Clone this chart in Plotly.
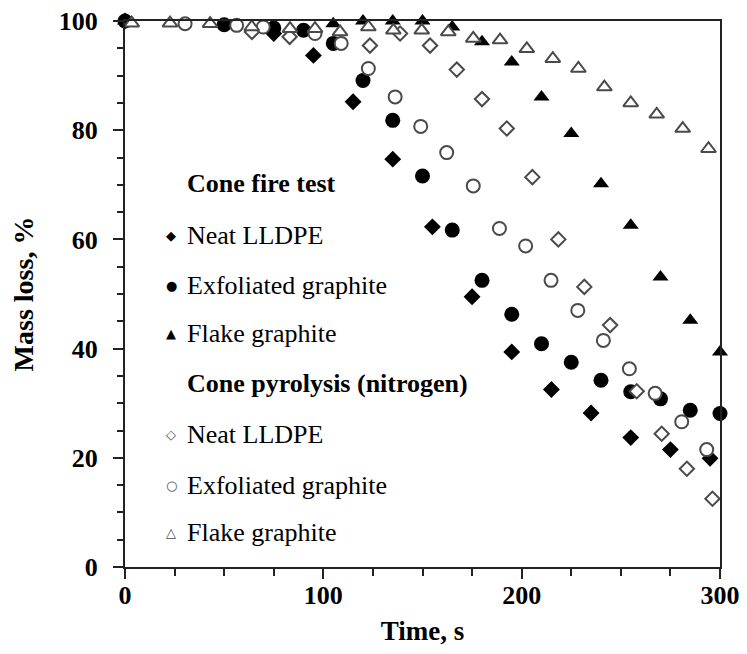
import plotly.graph_objects as go

# ---- data ----
fire_neat_t = [0, 75, 95, 115, 135, 155, 175, 195, 215, 235, 255, 275, 295]
fire_neat_y = [100, 97.7, 93.7, 85.2, 74.7, 62.3, 49.5, 39.4, 32.5, 28.2, 23.7, 21.5, 19.9]

fire_exf_t = [0, 50, 75, 90, 105, 120, 135, 150, 165, 180, 195, 210, 225, 240, 255, 270, 285, 300]
fire_exf_y = [100, 99.3, 98.7, 98.3, 95.9, 89.1, 81.8, 71.6, 61.7, 52.5, 46.3, 40.9, 37.5, 34.2, 32.1, 30.8, 28.7, 28.1]

fire_flake_t = [0, 105, 120, 135, 150, 165, 180, 195, 210, 225, 240, 255, 270, 285, 300]
fire_flake_y = [100, 99.5, 100, 100, 100, 98.9, 96.2, 92.5, 86.1, 79.4, 70.2, 62.6, 53.1, 45.2, 39.4]

pyr_neat_t = [64, 83, 123.5, 138.7, 153.8, 167.3, 180, 192.5, 205.4, 218.5, 231.6, 244.6, 258, 270.6, 283.3, 296.2]
pyr_neat_y = [98, 97.1, 95.5, 97.7, 95.5, 91.1, 85.7, 80.3, 71.4, 60, 51.3, 44.3, 32.2, 24.4, 18, 12.5]

pyr_exf_t = [30.3, 56.3, 69.7, 95.8, 109, 122.7, 136.2, 149.1, 162.2, 175.6, 188.8, 202, 214.8, 228.3, 241.2, 254.3, 267.3, 280.7, 293.3]
pyr_exf_y = [99.5, 99.2, 98.9, 97.7, 95.9, 91.3, 86.1, 80.7, 75.9, 69.8, 62, 58.8, 52.5, 47, 41.5, 36.3, 31.8, 26.6, 21.5]

pyr_flake_t = [3.4, 22.7, 42.9, 63.9, 83.2, 95.8, 108.4, 122.7, 135.3, 149.6, 163, 175.6, 189.1, 202.6, 215.7, 228.6, 241.7, 255, 268.1, 281.2, 294.2]
pyr_flake_y = [99.6, 99.6, 99.5, 98.9, 98.6, 98.6, 98, 98.9, 98.3, 98.3, 98, 96.8, 96.5, 94.9, 93.1, 91.3, 87.9, 85, 82.9, 80.3, 76.6]

x_ticks = [0, 100, 200, 300]
y_ticks = [0, 20, 40, 60, 80, 100]

FONT = "Liberation Serif, Times New Roman, serif"
OPEN = "#4a4a4a"

fig = go.Figure()

def add(t, y, name, symbol, size, filled):
    if filled:
        marker = dict(symbol=symbol, size=size, color="black", line=dict(width=0))
    else:
        marker = dict(symbol=symbol, size=size, color="white", line=dict(width=2, color=OPEN))
    fig.add_trace(go.Scatter(x=t, y=y, mode="markers", name=name, marker=marker,
                             showlegend=False, cliponaxis=False))

add(fire_neat_t, fire_neat_y, "Cone fire – Neat LLDPE", "diamond", 13, True)
add(fire_exf_t, fire_exf_y, "Cone fire – Exfoliated graphite", "circle", 15, True)
add(fire_flake_t, fire_flake_y, "Cone fire – Flake graphite", "triangle-up", 14, True)
add(pyr_neat_t, pyr_neat_y, "Pyrolysis – Neat LLDPE", "diamond", 11, False)
add(pyr_exf_t, pyr_exf_y, "Pyrolysis – Exfoliated graphite", "circle", 13, False)
add(pyr_flake_t, pyr_flake_y, "Pyrolysis – Flake graphite", "triangle-up", 13, False)

# ---- in-plot legend (text annotations) ----
legend_rows = [
    ("<b>Cone fire test</b>", None, 70.3),
    ("Neat LLDPE", ("◆", "black"), 60.7),
    ("Exfoliated graphite", ("●", "black"), 51.6),
    ("Flake graphite", ("▲", "black"), 42.8),
    ("<b>Cone pyrolysis (nitrogen)</b>", None, 33.6),
    ("Neat LLDPE", ("◇", OPEN), 24.3),
    ("Exfoliated graphite", ("○", OPEN), 15.0),
    ("Flake graphite", ("△", OPEN), 6.3),
]
annotations = []
for text, glyph, yv in legend_rows:
    annotations.append(dict(x=30.3, y=yv, xref="x", yref="y", text=text, showarrow=False,
                            xanchor="left", yanchor="middle",
                            font=dict(family=FONT, size=26, color="black")))
    if glyph:
        annotations.append(dict(x=23.2, y=yv, xref="x", yref="y", text=glyph[0], showarrow=False,
                                xanchor="center", yanchor="middle",
                                font=dict(family="DejaVu Sans", size=13, color=glyph[1])))

axis_common = dict(
    showline=True, linecolor="#222", linewidth=2, mirror=True, showgrid=False, zeroline=False,
    ticks="outside", tickcolor="#222", tickwidth=2, ticklen=10,
    tickfont=dict(family=FONT, size=26, color="black"),
    ticklabeloverflow="allow",
)

# page body has an 8px margin, so the plot is placed 8px up/left in the figure
fig.update_layout(
    width=739, height=646,
    margin=dict(l=117, r=27, t=13, b=87, autoexpand=False),
    paper_bgcolor="white", plot_bgcolor="white",
    font=dict(family=FONT, color="black"),
    xaxis=dict(range=[0, 300], tickvals=x_ticks, ticktext=[f"<b>{v}</b>" for v in x_ticks],
               minor=dict(dtick=25, tick0=0, ticks="outside", ticklen=7, tickwidth=2, tickcolor="#222"),
               ticklabelstandoff=-6,
               title=dict(text="<b>Time, s</b>", font=dict(family=FONT, size=27), standoff=12),
               **axis_common),
    yaxis=dict(range=[0, 100], tickvals=y_ticks, ticktext=[f"<b>{v}</b>" for v in y_ticks],
               minor=dict(dtick=5, tick0=0, ticks="outside", ticklen=6, tickwidth=2, tickcolor="#222"),
               ticklabelstandoff=10,
               title=dict(text="<b>Mass loss, %</b>", font=dict(family=FONT, size=28), standoff=17),
               **axis_common),
    annotations=annotations,
)

fig.write_html("out.html")
